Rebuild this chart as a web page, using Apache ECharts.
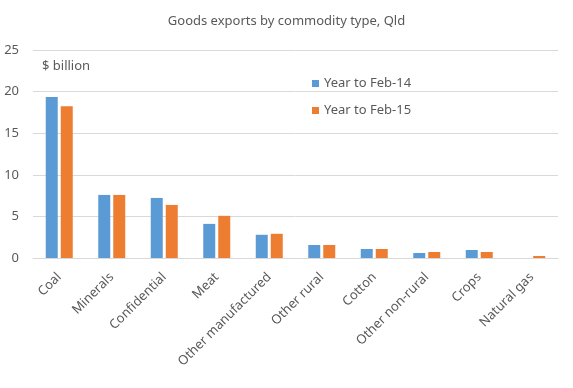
<!DOCTYPE html>
<html>
<head>
<meta charset="utf-8">
<script src="https://cdn.jsdelivr.net/npm/echarts@6/dist/echarts.min.js"></script>
<style>html,body{margin:0;padding:0;background:#fff;}#c{width:573px;height:388px;}</style>
</head>
<body>
<div id="c"></div>
<script>
const categories = ['Coal','Minerals','Confidential','Meat','Other manufactured','Other rural','Cotton','Other non-rural','Crops','Natural gas'];
const seriesNames = ['Year to Feb-14','Year to Feb-15'];
const feb14 = [19.35, 7.58, 7.22, 4.1, 2.79, 1.56, 1.08, 0.6, 0.96, 0];
const feb15 = [18.24, 7.58, 6.38, 5.07, 2.91, 1.56, 1.08, 0.72, 0.72, 0.24];
const yTicks = {min: 0, max: 25, interval: 5};

const font = '"Noto Sans", "Open Sans", sans-serif';
const chart = echarts.init(document.getElementById('c'), null, {renderer: 'canvas'});
chart.setOption({
  animation: false,
  backgroundColor: '#ffffff',
  title: [
    {text: 'Goods exports by commodity type, Qld', left: 'center', top: 10,
     textStyle: {fontFamily: font, fontSize: 13, fontWeight: 'normal', color: '#595959'}},
    {text: '$ billion', left: 37, top: 55,
     textStyle: {fontFamily: font, fontSize: 13, fontWeight: 'normal', color: '#595959'}}
  ],
  legend: {
    orient: 'vertical', left: 307, top: 72, itemGap: 14,
    itemWidth: 7, itemHeight: 7, icon: 'rect',
    textStyle: {fontFamily: font, fontSize: 13, color: '#595959'},
    data: seriesNames
  },
  grid: {left: 33, right: 15, top: 50, bottom: 130, containLabel: false},
  xAxis: {
    type: 'category', data: categories,
    axisLine: {lineStyle: {color: '#D9D9D9'}},
    axisTick: {show: false},
    axisLabel: {rotate: 45, interval: 0, margin: 17, fontFamily: font, fontSize: 13, color: '#595959'}
  },
  yAxis: {
    type: 'value', min: yTicks.min, max: yTicks.max, interval: yTicks.interval,
    axisLine: {show: false}, axisTick: {show: false},
    axisLabel: {margin: 14, fontFamily: font, fontSize: 13, color: '#595959'},
    splitLine: {lineStyle: {color: '#D9D9D9'}}
  },
  series: [
    {name: seriesNames[0], type: 'bar', data: feb14, barWidth: 12, barGap: '25%',
     itemStyle: {color: '#5B9BD5'}},
    {name: seriesNames[1], type: 'bar', data: feb15, barWidth: 12,
     itemStyle: {color: '#ED7D31'}}
  ]
});
</script>
</body>
</html>
